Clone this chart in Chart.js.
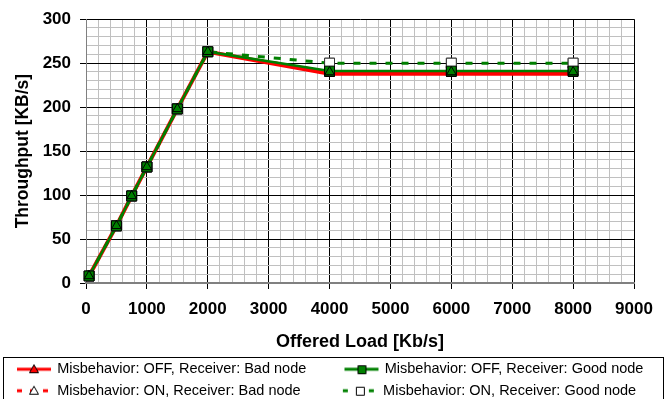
<!DOCTYPE html>
<html>
<head>
<meta charset="utf-8">
<script src="https://cdn.jsdelivr.net/npm/chart.js@4.4.1/dist/chart.umd.min.js"></script>
<style>
  html, body { margin: 0; padding: 0; background: #fff; }
</style>
</head>
<body>
<canvas id="grafico" width="667" height="399"></canvas>
<script>
// offered load (Kb/s) and measured throughput (KB/s)
const loads = [50, 500, 750, 1000, 1500, 2000, 4000, 6000, 8000];
const offBad = [8, 65, 99, 132, 198, 263, 238, 238, 238];
const offGood = [8, 65, 99, 132, 198, 263, 241, 241, 241];
const onBad = [8, 65, 99, 132, 198, 263, 240, 240, 240];
const onGood = [8, 65, 99, 132, 198, 263, 250, 250, 250];
const seriesNames = [
  'Misbehavior: OFF, Receiver: Bad node',
  'Misbehavior: OFF, Receiver: Good node',
  'Misbehavior: ON, Receiver: Bad node',
  'Misbehavior: ON, Receiver: Good node'
];

const RED = '#ff0000';
const GREEN = '#008000';

Chart.defaults.font.family = "'Liberation Sans', Arial, sans-serif";
Chart.defaults.color = '#000';

// little line+marker pictures for the legend (excel style)
function legendIcon(color, width, dash, shape, fill) {
  const c = document.createElement('canvas');
  c.width = 48; c.height = 16;
  const g = c.getContext('2d');
  g.strokeStyle = color; g.lineWidth = width; g.setLineDash(dash);
  g.beginPath(); g.moveTo(11, 8); g.lineTo(45, 8); g.stroke();
  g.setLineDash([]);
  g.fillStyle = fill; g.strokeStyle = '#000'; g.lineWidth = 1;
  g.beginPath();
  if (shape === 'triangle') {
    g.moveTo(28, 3.5); g.lineTo(32.5, 11.5); g.lineTo(23.5, 11.5); g.closePath();
  } else {
    g.rect(24.5, 4.5, 8, 8);
  }
  g.fill(); g.stroke();
  return c;
}
const icons = [
  legendIcon(RED, 3, [], 'triangle', RED),
  legendIcon(GREEN, 3, [], 'rect', GREEN),
  legendIcon(RED, 3, [5, 8], 'triangle', '#fff'),
  legendIcon(GREEN, 3, [5, 8], 'rect', '#fff')
];

const isMajorX = v => v % 1000 === 0;
const isMajorY = v => v % 50 === 0;

// markers are painted after all lines, like excel does
const pointOrder = [0, 3, 1, 2];
const markersOnTop = {
  id: 'markersOnTop',
  afterDatasetsDraw(chart) {
    const ctx = chart.ctx;
    pointOrder.forEach(i => chart.getDatasetMeta(i).data.forEach(p => p.draw(ctx, chart.chartArea)));
  }
};

const legendFrame = {
  id: 'legendFrame',
  afterDraw(chart) {
    const ctx = chart.ctx;
    ctx.save();
    ctx.strokeStyle = '#000';
    ctx.lineWidth = 1;
    ctx.strokeRect(3.5, Math.round(chart.legend.top) + 2.5, chart.width - 7, 60);
    ctx.restore();
  }
};

const toXY = arr => arr.map((v, i) => ({ x: loads[i], y: v }));

new Chart(document.getElementById('grafico'), {
  type: 'line',
  data: {
    datasets: [
      {
        label: seriesNames[0], data: toXY(offBad), order: 4,
        borderColor: RED, borderWidth: 4,
        pointStyle: 'triangle', pointRadius: 5.5, pointBackgroundColor: RED,
        pointBorderColor: '#000', pointBorderWidth: 1
      },
      {
        label: seriesNames[1], data: toXY(offGood), order: 2,
        borderColor: GREEN, borderWidth: 2.5,
        pointStyle: 'rect', pointRadius: 7, pointBackgroundColor: GREEN,
        pointBorderColor: '#000', pointBorderWidth: 1
      },
      {
        label: seriesNames[2], data: toXY(onBad), order: 3,
        borderColor: RED, borderWidth: 3, borderDash: [7, 9],
        pointStyle: 'triangle', pointRadius: 5.5, pointBackgroundColor: 'rgba(0,0,0,0)',
        pointBorderColor: '#000', pointBorderWidth: 1
      },
      {
        label: seriesNames[3], data: toXY(onGood), order: 1,
        borderColor: GREEN, borderWidth: 3, borderDash: [7, 9],
        pointStyle: 'rect', pointRadius: 7, pointBackgroundColor: '#fff',
        pointBorderColor: '#333', pointBorderWidth: 1
      }
    ]
  },
  options: {
    responsive: false,
    animation: false,
    events: [],
    layout: { padding: { top: 17, left: 3, right: 0, bottom: -9 } },
    plugins: {
      tooltip: { enabled: false },
      legend: {
        position: 'bottom',
        align: 'start',
        labels: {
          usePointStyle: true,
          pointStyleWidth: 40,
          padding: 7,
          color: '#000',
          font: { size: 14.5 },
          generateLabels: (chart) => chart.data.datasets.map((ds, i) => ({
            text: i % 2 === 0 ? ds.label.padEnd(42) : ds.label,
            pointStyle: icons[i],
            datasetIndex: i,
            hidden: false,
            lineWidth: 0,
            fillStyle: 'rgba(0,0,0,0)',
            strokeStyle: 'rgba(0,0,0,0)'
          }))
        }
      }
    },
    scales: {
      x: {
        type: 'linear',
        min: 0,
        max: 9000,
        afterFit: (s) => { s.height = 72; },
        ticks: {
          stepSize: 200,
          autoSkip: false,
          maxRotation: 0,
          maxTicksLimit: 100,
          padding: 10,
          color: '#000',
          font: { size: 17, weight: 'bold' },
          callback: (v) => isMajorX(v) ? String(v) : ''
        },
        grid: {
          color: (c) => isMajorX(c.tick.value) ? '#000' : '#c0c0c0',
          tickColor: (c) => isMajorX(c.tick.value) ? '#000' : 'rgba(0,0,0,0)',
          tickLength: 6
        },
        border: { color: '#808080', width: 2 },
        title: {
          display: true,
          text: 'Offered Load [Kb/s]',
          color: '#000',
          font: { size: 18, weight: 'bold' },
          padding: { top: 0, bottom: 2 }
        }
      },
      y: {
        min: 0,
        max: 300,
        afterFit: (s) => { s.width = 83; },
        ticks: {
          stepSize: 10,
          autoSkip: false,
          maxTicksLimit: 100,
          padding: 9,
          color: '#000',
          font: { size: 17, weight: 'bold' },
          callback: (v) => isMajorY(v) ? String(v) : ''
        },
        grid: {
          color: (c) => isMajorY(c.tick.value) ? '#000' : '#c0c0c0',
          tickColor: (c) => isMajorY(c.tick.value) ? '#000' : 'rgba(0,0,0,0)',
          tickLength: 6
        },
        border: { color: '#808080', width: 1 },
        title: {
          display: true,
          text: 'Throughput [KB/s]',
          color: '#000',
          font: { size: 17.5, weight: 'bold' },
          padding: { top: 10, bottom: 0 }
        }
      },
      // empty axis on the right, only keeps the plot away from the edge
      yRight: {
        position: 'right',
        display: true,
        grid: { display: false },
        border: { display: false },
        ticks: { display: false },
        afterFit: (s) => { s.width = 33; }
      }
    }
  },
  plugins: [markersOnTop, legendFrame]
});
</script>
</body>
</html>
